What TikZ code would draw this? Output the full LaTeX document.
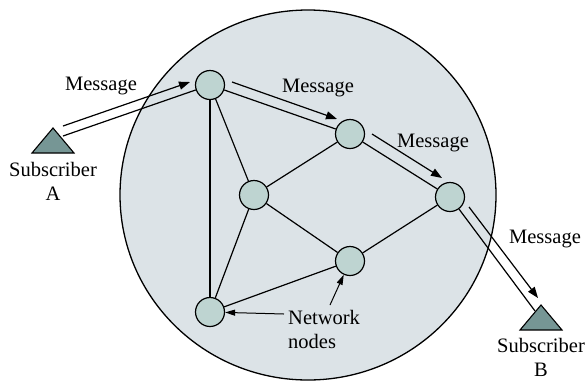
\documentclass[tikz,border=0pt]{standalone}
\usepackage{fontspec}
\setmainfont{Liberation Serif}
\usetikzlibrary{arrows.meta,calc}
\definecolor{cloud}{RGB}{220,227,231}
\definecolor{nodefill}{RGB}{190,212,209}
\definecolor{subfill}{RGB}{118,150,149}
\tikzset{
  netnode/.style={circle,draw=black,fill=nodefill,line width=1.2pt,minimum size=29pt,inner sep=0pt},
  link/.style={line width=1.2pt},
  msg/.style={line width=1.2pt,-{Triangle[length=11pt,width=8pt]}},
  lbl/.style={font=\fontsize{20.5}{24}\selectfont,inner sep=0pt},
  subtri/.style={draw=black,fill=subfill,line width=1.1pt,line join=miter},
}
\begin{document}
\begin{tikzpicture}[x=1pt,y=-1pt]
\useasboundingbox (0,0) rectangle (585,381);
% network cloud
\draw[fill=cloud,line width=1.3pt] (308,195) ellipse [x radius=188,y radius=185];
% nodes
\node[netnode] (n1) at (210,85) {};
\node[netnode] (n2) at (350,134) {};
\node[netnode] (n3) at (450,197) {};
\node[netnode] (n4) at (254,195) {};
\node[netnode] (n5) at (350,261) {};
\node[netnode] (n6) at (210,312) {};
% subscribers
\coordinate (aA) at (53,128);
\coordinate (aB) at (541,305);
\draw[subtri] (aA) -- (74,153) -- (32,153) -- cycle;
\draw[subtri] (aB) -- (562,330) -- (520,330) -- cycle;
% links
\draw[link] (n1) -- (n6);
\draw[link] (n1) -- (n4);
\draw[link] (n1) -- (n2);
\draw[link] (n2) -- (n4);
\draw[link] (n2) -- (n3);
\draw[link] (n3) -- (n5);
\draw[link] (n4) -- (n5);
\draw[link] (n4) -- (n6);
\draw[link] (n5) -- (n6);
\draw[link] (63,136) -- (n1);
\draw[link] (n3) -- (535,311);
% message arrows
\coordinate (m1s) at (63,126);
\coordinate (m1e) at (190,82);
\coordinate (m2s) at (232,82);
\coordinate (m2e) at (337,119);
\coordinate (m3s) at (372,134);
\coordinate (m3e) at (442,178);
\coordinate (m4s) at (469,207);
\coordinate (m4e) at (538,298);
\draw[msg] (m1s) -- (m1e);
\draw[msg] (m2s) -- (m2e);
\draw[msg] (m3s) -- (m3e);
\draw[msg] (m4s) -- (m4e);
% labels
\node[lbl] (t1) at (101,86) {Message};
\node[lbl] (t2) at (318,88) {Message};
\node[lbl] (t3) at (433,143) {Message};
\node[lbl] (t4) at (545,239) {Message};
\node[lbl,align=center] (sa) at (53,181) {Subscriber\\A};
\node[lbl,align=center] (sb) at (541,357) {Subscriber\\B};
\node[lbl,align=left,anchor=west] (nn) at (288,329) {Network\\nodes};
\draw[msg,line width=1pt,-{Triangle[length=10pt,width=6pt]}] (284,314) -- (n6);
\draw[msg,line width=1pt,-{Triangle[length=10pt,width=6pt]}] (330,305) -- (n5);
\end{tikzpicture}
\end{document}
